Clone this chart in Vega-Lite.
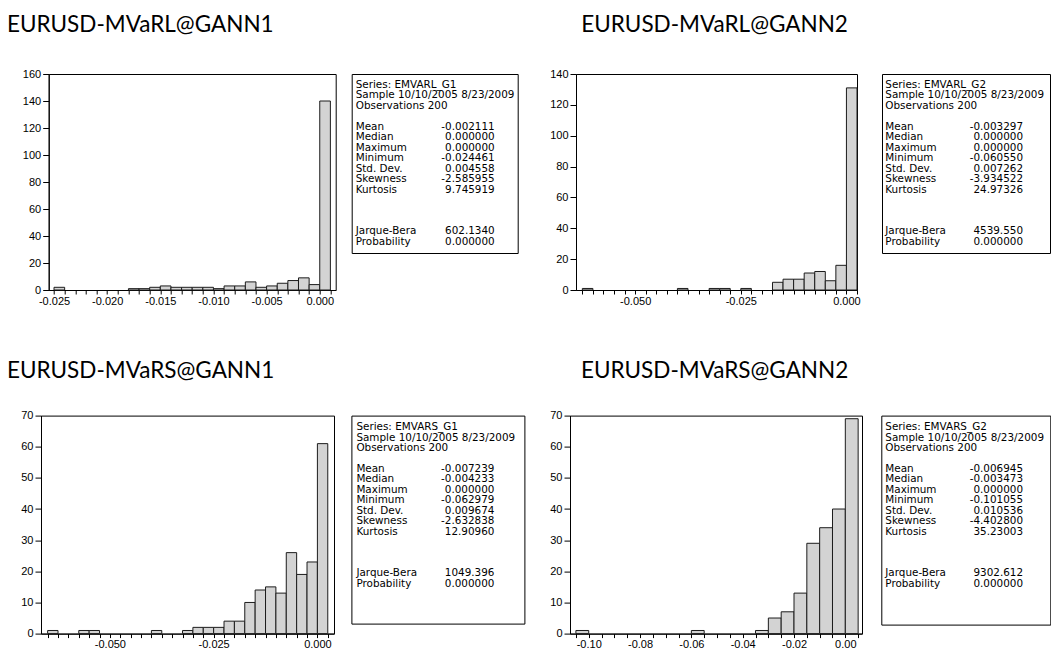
{
  "$schema": "https://vega.github.io/schema/vega-lite/v6.json",
  "background": "white",
  "padding": {"left": 6, "top": 13, "right": 0, "bottom": 0},
  "config": {
    "view": {"stroke": "#000", "strokeWidth": 1},
    "axis": {"domainColor": "#000", "tickColor": "#000", "labelColor": "#000", "labelFont": "Liberation Sans", "labelFontSize": 11, "grid": false, "title": null},
    "title": {"font": "Lato", "fontSize": 22.5, "fontWeight": "normal", "color": "#000", "baseline": "alphabetic", "anchor": "start", "frame": "group"}
  },
  "datasets": {
    "h1": [
      {"lo": -0.025, "hi": -0.024, "n": 2},
      {"lo": -0.018, "hi": -0.017, "n": 1},
      {"lo": -0.017, "hi": -0.016, "n": 1},
      {"lo": -0.016, "hi": -0.015, "n": 2},
      {"lo": -0.015, "hi": -0.014, "n": 3},
      {"lo": -0.014, "hi": -0.013, "n": 2},
      {"lo": -0.013, "hi": -0.012, "n": 2},
      {"lo": -0.012, "hi": -0.011, "n": 2},
      {"lo": -0.011, "hi": -0.010, "n": 2},
      {"lo": -0.010, "hi": -0.009, "n": 1},
      {"lo": -0.009, "hi": -0.008, "n": 3},
      {"lo": -0.008, "hi": -0.007, "n": 3},
      {"lo": -0.007, "hi": -0.006, "n": 6},
      {"lo": -0.006, "hi": -0.005, "n": 2},
      {"lo": -0.005, "hi": -0.004, "n": 3},
      {"lo": -0.004, "hi": -0.003, "n": 5},
      {"lo": -0.003, "hi": -0.002, "n": 7},
      {"lo": -0.002, "hi": -0.001, "n": 9},
      {"lo": -0.001, "hi": 0.0, "n": 4},
      {"lo": 0.0, "hi": 0.001, "n": 140}
    ],
    "h2": [
      {"lo": -0.0625, "hi": -0.06, "n": 1},
      {"lo": -0.04, "hi": -0.0375, "n": 1},
      {"lo": -0.0325, "hi": -0.03, "n": 1},
      {"lo": -0.03, "hi": -0.0275, "n": 1},
      {"lo": -0.025, "hi": -0.0225, "n": 1},
      {"lo": -0.0175, "hi": -0.015, "n": 5},
      {"lo": -0.015, "hi": -0.0125, "n": 7},
      {"lo": -0.0125, "hi": -0.01, "n": 7},
      {"lo": -0.01, "hi": -0.0075, "n": 11},
      {"lo": -0.0075, "hi": -0.005, "n": 12},
      {"lo": -0.005, "hi": -0.0025, "n": 6},
      {"lo": -0.0025, "hi": 0.0, "n": 16},
      {"lo": 0.0, "hi": 0.0025, "n": 131}
    ],
    "h3": [
      {"lo": -0.065, "hi": -0.0625, "n": 1},
      {"lo": -0.0575, "hi": -0.055, "n": 1},
      {"lo": -0.055, "hi": -0.0525, "n": 1},
      {"lo": -0.04, "hi": -0.0375, "n": 1},
      {"lo": -0.0325, "hi": -0.03, "n": 1},
      {"lo": -0.03, "hi": -0.0275, "n": 2},
      {"lo": -0.0275, "hi": -0.025, "n": 2},
      {"lo": -0.025, "hi": -0.0225, "n": 2},
      {"lo": -0.0225, "hi": -0.02, "n": 4},
      {"lo": -0.02, "hi": -0.0175, "n": 4},
      {"lo": -0.0175, "hi": -0.015, "n": 10},
      {"lo": -0.015, "hi": -0.0125, "n": 14},
      {"lo": -0.0125, "hi": -0.01, "n": 15},
      {"lo": -0.01, "hi": -0.0075, "n": 13},
      {"lo": -0.0075, "hi": -0.005, "n": 26},
      {"lo": -0.005, "hi": -0.0025, "n": 19},
      {"lo": -0.0025, "hi": 0.0, "n": 23},
      {"lo": 0.0, "hi": 0.0025, "n": 61}
    ],
    "h4": [
      {"lo": -0.105, "hi": -0.1, "n": 1},
      {"lo": -0.06, "hi": -0.055, "n": 1},
      {"lo": -0.035, "hi": -0.03, "n": 1},
      {"lo": -0.03, "hi": -0.025, "n": 5},
      {"lo": -0.025, "hi": -0.02, "n": 7},
      {"lo": -0.02, "hi": -0.015, "n": 13},
      {"lo": -0.015, "hi": -0.01, "n": 29},
      {"lo": -0.01, "hi": -0.005, "n": 34},
      {"lo": -0.005, "hi": 0.0, "n": 40},
      {"lo": 0.0, "hi": 0.005, "n": 69}
    ],
    "s1": [
      {"line": 0, "label": "Series: EMVARL_G1", "value": ""},
      {"line": 1, "label": "Sample 10/10/2005 8/23/2009", "value": ""},
      {"line": 2, "label": "Observations 200", "value": ""},
      {"line": 4, "label": "Mean", "value": "-0.002111"},
      {"line": 5, "label": "Median", "value": "0.000000"},
      {"line": 6, "label": "Maximum", "value": "0.000000"},
      {"line": 7, "label": "Minimum", "value": "-0.024461"},
      {"line": 8, "label": "Std. Dev.", "value": "0.004558"},
      {"line": 9, "label": "Skewness", "value": "-2.585955"},
      {"line": 10, "label": "Kurtosis", "value": "9.745919"},
      {"line": 14, "label": "Jarque-Bera", "value": "602.1340"},
      {"line": 15, "label": "Probability", "value": "0.000000"}
    ],
    "s2": [
      {"line": 0, "label": "Series: EMVARL_G2", "value": ""},
      {"line": 1, "label": "Sample 10/10/2005 8/23/2009", "value": ""},
      {"line": 2, "label": "Observations 200", "value": ""},
      {"line": 4, "label": "Mean", "value": "-0.003297"},
      {"line": 5, "label": "Median", "value": "0.000000"},
      {"line": 6, "label": "Maximum", "value": "0.000000"},
      {"line": 7, "label": "Minimum", "value": "-0.060550"},
      {"line": 8, "label": "Std. Dev.", "value": "0.007262"},
      {"line": 9, "label": "Skewness", "value": "-3.934522"},
      {"line": 10, "label": "Kurtosis", "value": "24.97326"},
      {"line": 14, "label": "Jarque-Bera", "value": "4539.550"},
      {"line": 15, "label": "Probability", "value": "0.000000"}
    ],
    "s3": [
      {"line": 0, "label": "Series: EMVARS_G1", "value": ""},
      {"line": 1, "label": "Sample 10/10/2005 8/23/2009", "value": ""},
      {"line": 2, "label": "Observations 200", "value": ""},
      {"line": 4, "label": "Mean", "value": "-0.007239"},
      {"line": 5, "label": "Median", "value": "-0.004233"},
      {"line": 6, "label": "Maximum", "value": "0.000000"},
      {"line": 7, "label": "Minimum", "value": "-0.062979"},
      {"line": 8, "label": "Std. Dev.", "value": "0.009674"},
      {"line": 9, "label": "Skewness", "value": "-2.632838"},
      {"line": 10, "label": "Kurtosis", "value": "12.90960"},
      {"line": 14, "label": "Jarque-Bera", "value": "1049.396"},
      {"line": 15, "label": "Probability", "value": "0.000000"}
    ],
    "s4": [
      {"line": 0, "label": "Series: EMVARS_G2", "value": ""},
      {"line": 1, "label": "Sample 10/10/2005 8/23/2009", "value": ""},
      {"line": 2, "label": "Observations 200", "value": ""},
      {"line": 4, "label": "Mean", "value": "-0.006945"},
      {"line": 5, "label": "Median", "value": "-0.003473"},
      {"line": 6, "label": "Maximum", "value": "0.000000"},
      {"line": 7, "label": "Minimum", "value": "-0.101055"},
      {"line": 8, "label": "Std. Dev.", "value": "0.010536"},
      {"line": 9, "label": "Skewness", "value": "-4.402800"},
      {"line": 10, "label": "Kurtosis", "value": "35.23003"},
      {"line": 14, "label": "Jarque-Bera", "value": "9302.612"},
      {"line": 15, "label": "Probability", "value": "0.000000"}
    ]
  },
  "columns": 1,
  "align": "none",
  "spacing": 52.6,
  "concat": [
    {
      "spacing": 30,
      "hconcat": [
        {
          "spacing": 6.7, "bounds": "flush",
          "hconcat": [
            {
              "width": 1, "height": 1,
              "view": {"stroke": null},
              "data": {"values": []},
              "mark": "point"
            },
            {
              "spacing": 16, "bounds": "flush",
              "hconcat": [
                {
                  "width": 287, "height": 216,
                  "title": {"text": "EURUSD-MVaRL@GANN1", "dx": -41.7, "offset": 32},
                  "data": {"name": "h1"},
                  "mark": {"type": "bar", "fill": "#d3d3d3", "stroke": "#1c1c1c", "strokeWidth": 1},
                  "encoding": {
                    "x": {"field": "lo", "type": "quantitative",
                      "scale": {"domain": [-0.0255, 0.0015], "nice": false, "zero": false},
                      "axis": {"values": [-0.025, -0.024, -0.023, -0.022, -0.021, -0.02, -0.019, -0.018, -0.017, -0.016, -0.015, -0.014, -0.013, -0.012, -0.011, -0.01, -0.009, -0.008, -0.007, -0.006, -0.005, -0.004, -0.003, -0.002, -0.001, 0, 0.001],
                        "labelExpr": "abs(datum.value*200 - round(datum.value*200)) < 0.01 ? replace(format(datum.value, '.3f'), '−', '-') : ''",
                        "tickSize": 4, "labelPadding": 1, "labelFlush": false, "labelOverlap": false, "labelBound": false}},
                    "x2": {"field": "hi"},
                    "y": {"field": "n", "type": "quantitative",
                      "scale": {"domain": [0, 160], "nice": false},
                      "axis": {"values": [0, 20, 40, 60, 80, 100, 120, 140, 160], "tickSize": 6, "labelPadding": 2, "labelOverlap": false}},
                    "y2": {"datum": 0}
                  }
                },
                {
                  "width": 166, "height": 179,
                  "data": {"name": "s1"},
                  "encoding": {"y": {"field": "line", "type": "quantitative", "scale": {"domain": [-1.053, 16.076], "reverse": true, "nice": false, "zero": false}, "axis": null}},
                  "layer": [
                    {"mark": {"type": "text", "align": "left", "baseline": "middle", "font": "DejaVu Sans", "fontSize": 10.4, "color": "#000"},
                     "encoding": {"x": {"datum": 0, "type": "quantitative", "scale": {"domain": [-0.02878, 1.16547], "nice": false, "zero": false}, "axis": null}, "text": {"field": "label"}}},
                    {"mark": {"type": "text", "align": "right", "baseline": "middle", "font": "DejaVu Sans", "fontSize": 10.4, "color": "#000"},
                     "encoding": {"x": {"datum": 1, "type": "quantitative", "axis": null}, "text": {"field": "value"}}}
                  ]
                }
              ]
            }
          ]
        },
        {
          "spacing": 25, "bounds": "flush",
          "hconcat": [
            {
              "width": 281, "height": 216,
              "title": {"text": "EURUSD-MVaRL@GANN2", "dx": 5.3, "offset": 32},
              "data": {"name": "h2"},
              "mark": {"type": "bar", "fill": "#d3d3d3", "stroke": "#1c1c1c", "strokeWidth": 1},
              "encoding": {
                "x": {"field": "lo", "type": "quantitative",
                  "scale": {"domain": [-0.064, 0.0025], "nice": false, "zero": false},
                  "axis": {"values": [-0.0625, -0.06, -0.0575, -0.055, -0.0525, -0.05, -0.0475, -0.045, -0.0425, -0.04, -0.0375, -0.035, -0.0325, -0.03, -0.0275, -0.025, -0.0225, -0.02, -0.0175, -0.015, -0.0125, -0.01, -0.0075, -0.005, -0.0025, 0, 0.0025],
                    "labelExpr": "abs(datum.value*40 - round(datum.value*40)) < 0.01 ? replace(format(datum.value, '.3f'), '−', '-') : ''",
                    "tickSize": 4, "labelPadding": 1, "labelFlush": false, "labelOverlap": false, "labelBound": false}},
                "x2": {"field": "hi"},
                "y": {"field": "n", "type": "quantitative",
                  "scale": {"domain": [0, 140], "nice": false},
                  "axis": {"values": [0, 20, 40, 60, 80, 100, 120, 140], "tickSize": 6, "labelPadding": 2, "labelOverlap": false}},
                "y2": {"datum": 0}
              }
            },
            {
              "width": 168, "height": 179,
              "data": {"name": "s2"},
              "encoding": {"y": {"field": "line", "type": "quantitative", "scale": {"domain": [-1.053, 16.076], "reverse": true, "nice": false, "zero": false}, "axis": null}},
              "layer": [
                {"mark": {"type": "text", "align": "left", "baseline": "middle", "font": "DejaVu Sans", "fontSize": 10.4, "color": "#000"},
                 "encoding": {"x": {"datum": 0, "type": "quantitative", "scale": {"domain": [-0.024, 1.196], "nice": false, "zero": false}, "axis": null}, "text": {"field": "label"}}},
                {"mark": {"type": "text", "align": "right", "baseline": "middle", "font": "DejaVu Sans", "fontSize": 10.4, "color": "#000"},
                 "encoding": {"x": {"datum": 1, "type": "quantitative", "axis": null}, "text": {"field": "value"}}}
              ]
            }
          ]
        }
      ]
    },
    {
      "spacing": 24,
      "hconcat": [
        {
          "spacing": 17.4, "bounds": "flush",
          "hconcat": [
            {
              "width": 293, "height": 218,
              "title": {"text": "EURUSD-MVaRS@GANN1", "dx": -34, "offset": 27},
              "data": {"name": "h3"},
              "mark": {"type": "bar", "fill": "#d3d3d3", "stroke": "#1c1c1c", "strokeWidth": 1},
              "encoding": {
                "x": {"field": "lo", "type": "quantitative",
                  "scale": {"domain": [-0.0666, 0.004], "nice": false, "zero": false},
                  "axis": {"values": [-0.065, -0.0625, -0.06, -0.0575, -0.055, -0.0525, -0.05, -0.0475, -0.045, -0.0425, -0.04, -0.0375, -0.035, -0.0325, -0.03, -0.0275, -0.025, -0.0225, -0.02, -0.0175, -0.015, -0.0125, -0.01, -0.0075, -0.005, -0.0025, 0, 0.0025],
                    "labelExpr": "abs(datum.value*40 - round(datum.value*40)) < 0.01 ? replace(format(datum.value, '.3f'), '−', '-') : ''",
                    "tickSize": 4, "labelPadding": 1, "labelFlush": false, "labelOverlap": false, "labelBound": false}},
                "x2": {"field": "hi"},
                "y": {"field": "n", "type": "quantitative",
                  "scale": {"domain": [0, 70], "nice": false},
                  "axis": {"values": [0, 10, 20, 30, 40, 50, 60, 70], "tickSize": 6, "labelPadding": 2, "labelOverlap": false}},
                "y2": {"datum": 0}
              }
            },
            {
              "width": 173, "height": 208,
              "data": {"name": "s3"},
              "encoding": {"y": {"field": "line", "type": "quantitative", "scale": {"domain": [-1.11, 18.82], "reverse": true, "nice": false, "zero": false}, "axis": null}},
              "layer": [
                {"mark": {"type": "text", "align": "left", "baseline": "middle", "font": "DejaVu Sans", "fontSize": 10.4, "color": "#000"},
                 "encoding": {"x": {"datum": 0, "type": "quantitative", "scale": {"domain": [-0.0362, 1.217], "nice": false, "zero": false}, "axis": null}, "text": {"field": "label"}}},
                {"mark": {"type": "text", "align": "right", "baseline": "middle", "font": "DejaVu Sans", "fontSize": 10.4, "color": "#000"},
                 "encoding": {"x": {"datum": 1, "type": "quantitative", "axis": null}, "text": {"field": "value"}}}
              ]
            }
          ]
        },
        {
          "spacing": 19.3, "bounds": "flush",
          "hconcat": [
            {
              "width": 292, "height": 218,
              "title": {"text": "EURUSD-MVaRS@GANN2", "dx": 11, "offset": 27},
              "data": {"name": "h4"},
              "mark": {"type": "bar", "fill": "#d3d3d3", "stroke": "#1c1c1c", "strokeWidth": 1},
              "encoding": {
                "x": {"field": "lo", "type": "quantitative",
                  "scale": {"domain": [-0.1073, 0.0065], "nice": false, "zero": false},
                  "axis": {"values": [-0.105, -0.1, -0.095, -0.09, -0.085, -0.08, -0.075, -0.07, -0.065, -0.06, -0.055, -0.05, -0.045, -0.04, -0.035, -0.03, -0.025, -0.02, -0.015, -0.01, -0.005, 0, 0.005],
                    "labelExpr": "abs(datum.value*50 - round(datum.value*50)) < 0.01 ? replace(format(datum.value, '.2f'), '−', '-') : ''",
                    "tickSize": 4, "labelPadding": 1, "labelFlush": false, "labelOverlap": false, "labelBound": false}},
                "x2": {"field": "hi"},
                "y": {"field": "n", "type": "quantitative",
                  "scale": {"domain": [0, 70], "nice": false},
                  "axis": {"values": [0, 10, 20, 30, 40, 50, 60, 70], "tickSize": 6, "labelPadding": 2, "labelOverlap": false}},
                "y2": {"datum": 0}
              }
            },
            {
              "width": 169, "height": 209,
              "data": {"name": "s4"},
              "encoding": {"y": {"field": "line", "type": "quantitative", "scale": {"domain": [-1.11, 18.89], "reverse": true, "nice": false, "zero": false}, "axis": null}},
              "layer": [
                {"mark": {"type": "text", "align": "left", "baseline": "middle", "font": "DejaVu Sans", "fontSize": 10.4, "color": "#000"},
                 "encoding": {"x": {"datum": 0, "type": "quantitative", "scale": {"domain": [-0.029, 1.198], "nice": false, "zero": false}, "axis": null}, "text": {"field": "label"}}},
                {"mark": {"type": "text", "align": "right", "baseline": "middle", "font": "DejaVu Sans", "fontSize": 10.4, "color": "#000"},
                 "encoding": {"x": {"datum": 1, "type": "quantitative", "axis": null}, "text": {"field": "value"}}}
              ]
            }
          ]
        }
      ]
    }
  ]
}
